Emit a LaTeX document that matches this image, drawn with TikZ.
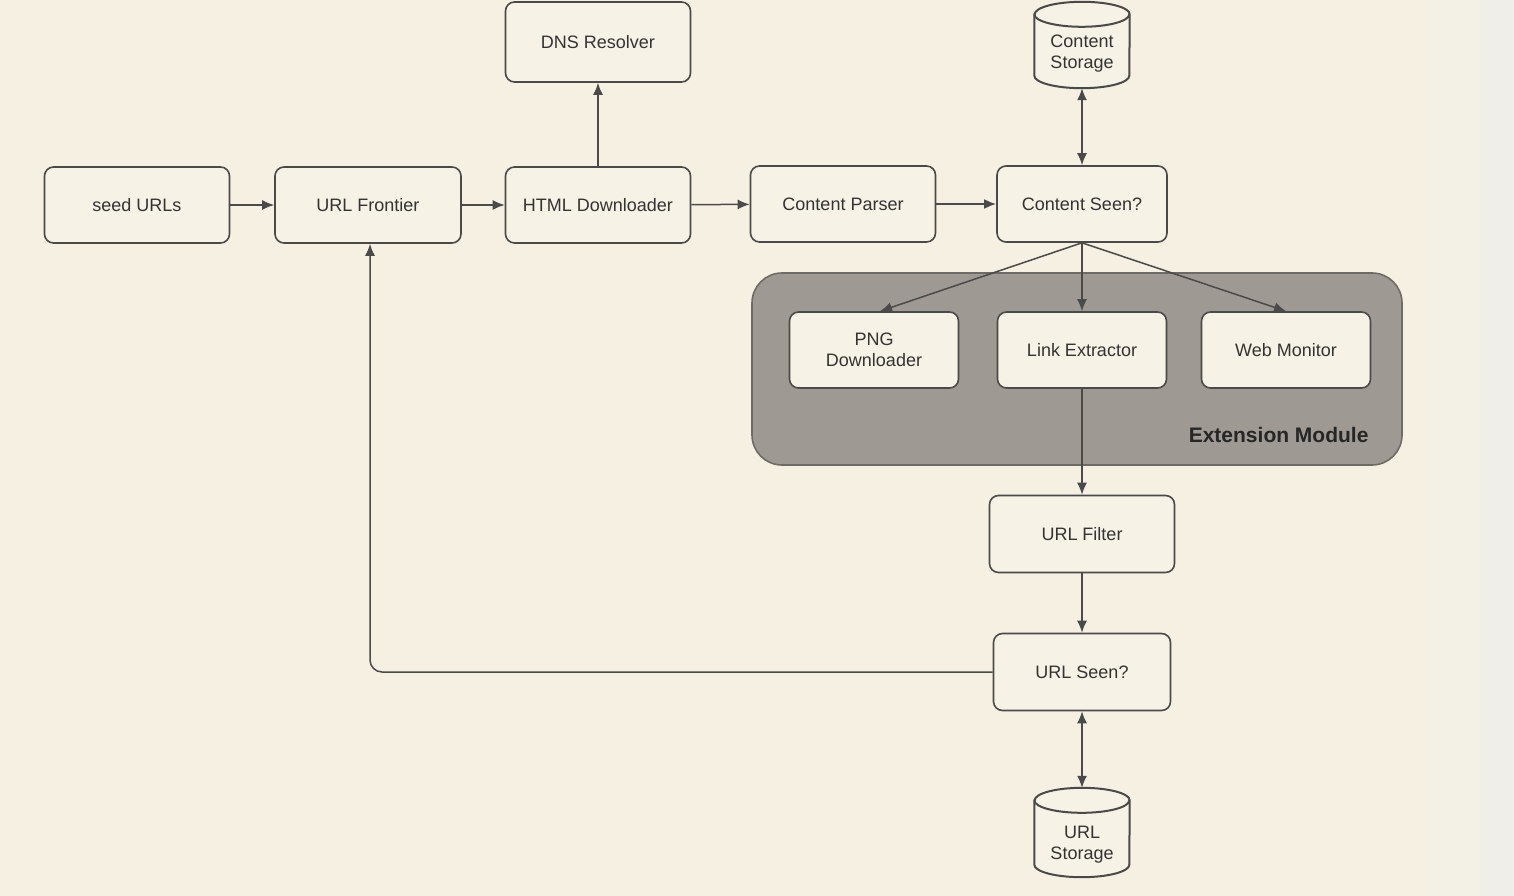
\documentclass[tikz,border=0pt]{standalone}
\usepackage{fontspec}
\setmainfont{Liberation Sans}
\usetikzlibrary{arrows.meta}
\definecolor{bgc}{HTML}{F6F0E3}
\definecolor{bgb}{HTML}{F3F0E6}
\definecolor{bgd}{HTML}{F0EEE8}
\definecolor{boxfill}{HTML}{F7F2E6}
\definecolor{linec}{HTML}{4A4A4A}
\definecolor{textc}{HTML}{333333}
\definecolor{modfill}{HTML}{9E9A93}
\definecolor{modline}{HTML}{6E6B66}
\tikzset{
  box/.style={draw=linec, line width=1.6pt, rounded corners=9pt, fill=boxfill,
    minimum width=185pt, minimum height=76pt, inner sep=2pt,
    font=\fontsize{18}{21}\selectfont, text=textc, align=center},
  smallbox/.style={box, minimum width=169pt},
  dbframe/.style={draw=none, minimum width=95pt, minimum height=86pt, inner sep=0pt},
  dbline/.style={draw=linec, line width=2pt, fill=boxfill},
  dbtext/.style={font=\fontsize{18}{21}\selectfont, text=textc, align=center, inner sep=0pt},
  arr/.style={draw=linec, line width=1.5pt, -{Latex[length=12pt,width=10pt]}},
  darr/.style={draw=linec, line width=1.5pt, {Latex[length=12pt,width=10pt]}-{Latex[length=12pt,width=10pt]}}
}
\newcommand{\dbdraw}[1]{%
  \path[dbline] ([yshift=-12.5pt]#1.north west) -- ([yshift=12.5pt]#1.south west)
    arc[start angle=180, end angle=360, x radius=47.5pt, y radius=12.5pt]
    -- ([yshift=-12.5pt]#1.north east)
    arc[start angle=0, end angle=180, x radius=47.5pt, y radius=12.5pt] -- cycle;
  \draw[dbline, fill=none] ([yshift=-12.5pt]#1.north west)
    arc[start angle=180, end angle=360, x radius=47.5pt, y radius=12.5pt];
}
\begin{document}
\begin{tikzpicture}[x=1pt,y=-1pt]
\useasboundingbox (0,0) rectangle (1514,896);
\fill[bgc] (0,0) rectangle (1428,896);
\fill[bgb] (1428,0) rectangle (1480,896);
\fill[bgd] (1480,0) rectangle (1514,896);

% extension module
\node[draw=modline, line width=1.6pt, fill=modfill, rounded corners=30pt,
  minimum width=650pt, minimum height=192pt] (ext) at (1077,369) {};
\node[anchor=east, font=\bfseries\fontsize{21}{24}\selectfont, text=black!85] (extlbl) at (1372,435) {Extension Module};

\node[box] (seed) at (137,205) {seed URLs};
\node[box, minimum width=186pt] (front) at (368,205) {URL Frontier};
\node[box] (html) at (598,205) {HTML Downloader};
\node[box, minimum height=80pt] (dns) at (598,42) {DNS Resolver};
\node[box] (parser) at (843,204) {Content Parser};
\node[box, minimum width=170pt] (cseen) at (1082,204) {Content Seen?};

\node[dbframe] (cstore) at (1082,45) {};
\dbdraw{cstore}
\node[dbtext] (cstorelbl) at (1082,54) {Content\\Storage};

\node[smallbox] (png) at (874,350) {PNG\\Downloader};
\node[smallbox] (link) at (1082,350) {Link Extractor};
\node[smallbox] (web) at (1286,350) {Web Monitor};

\node[box, minimum height=77pt] (filter) at (1082,534) {URL Filter};
\node[box, minimum width=177pt, minimum height=77pt] (useen) at (1082,672) {URL Seen?};

\node[dbframe, minimum height=89pt] (ustore) at (1082,832.5) {};
\dbdraw{ustore}
\node[dbtext] (ustorelbl) at (1082,845) {URL\\Storage};

\draw[arr] (seed) -- (front);
\draw[arr] (front) -- (html);
\draw[arr] (html) -- (parser);
\draw[arr, line width=2.2pt] (parser) -- (cseen);
\draw[arr] (html.north) -- (dns.south);
\draw[darr] (cseen.north) -- (cstore.south);
\draw[arr] (cseen.south) -- ([xshift=6pt]png.north);
\draw[arr] (cseen.south) -- (link.north);
\draw[arr] (cseen.south) -- (web.north);
\draw[arr] (link.south) -- (filter.north);
\draw[arr] (filter.south) -- (useen.north);
\draw[darr] (useen.south) -- (ustore.north);
\draw[arr, rounded corners=12pt] (useen.west) -| ([xshift=2pt]front.south);
\end{tikzpicture}
\end{document}
